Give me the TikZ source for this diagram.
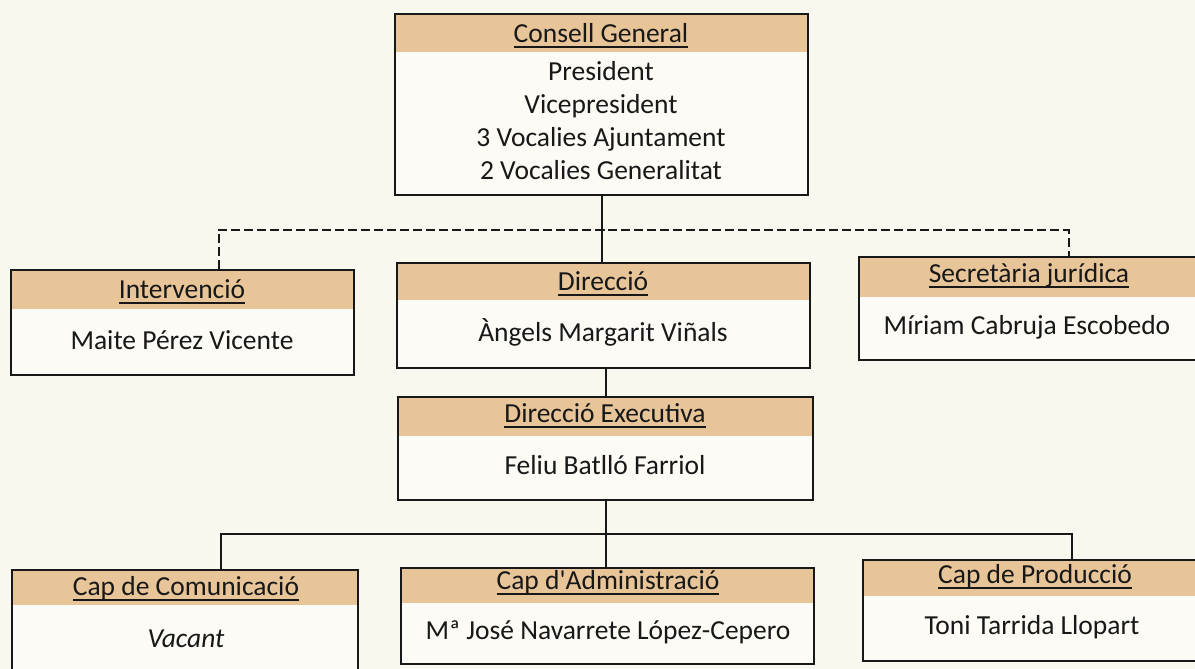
\documentclass[tikz,border=0pt]{standalone}
\usepackage{fontspec}
\setmainfont{Carlito}
\definecolor{paper}{RGB}{249,248,239}
\definecolor{boxbg}{RGB}{252,251,245}
\definecolor{head}{RGB}{231,197,152}
\definecolor{ink}{RGB}{24,24,24}
\newcommand\ulx[1]{\setbox0=\hbox{#1}\rlap{\rule[-0.2em]{\wd0}{0.07em}}\box0}
\tikzset{
  headh/.store in=\hh, headh=37,
  orgbox/.style={draw=ink, line width=1.8pt, fill=boxbg, inner sep=0pt, rectangle,
    path picture={\fill[head] (path picture bounding box.north west) rectangle ([yshift=-\hh pt]path picture bounding box.north east);}},
  txt/.style={inner sep=0pt, text=ink, font=\fontsize{27.5}{33}\selectfont, align=center},
  conn/.style={draw=ink, line width=2pt},
  dconn/.style={draw=ink, line width=2pt, dash pattern=on 9pt off 4pt}
}
\begin{document}
\begin{tikzpicture}[x=1pt,y=-1pt]
\fill[paper] (0,0) rectangle (1195,669);
\useasboundingbox (0,0) rectangle (1195,669);
\clip (0,0) rectangle (1195,669);
% boxes
\node[orgbox, headh=38, minimum width=413pt, minimum height=181pt] (cg) at (601.5,104.5) {};
\node[orgbox, headh=39, minimum width=343pt, minimum height=105pt] (int) at (182.5,322.5) {};
\node[orgbox, headh=37, minimum width=413pt, minimum height=105pt] (dir) at (603.5,315.5) {};
\node[orgbox, headh=40, minimum width=339pt, minimum height=103pt] (sec) at (1028.5,308.5) {};
\node[orgbox, headh=39, minimum width=415pt, minimum height=103pt] (de) at (605.5,448.5) {};
\node[orgbox, headh=35, minimum width=346pt, minimum height=108pt] (cc) at (185,624) {};
\node[orgbox, headh=35, minimum width=413pt, minimum height=96pt] (ca) at (607.5,616) {};
\node[orgbox, headh=36, minimum width=338pt, minimum height=101pt] (cp) at (1032,610.5) {};
% texts
\node[txt] (cgt) at (601,36) {\ulx{Consell General}};
\node[txt] (cgb) at (601,121) {President\\Vicepresident\\3 Vocalies Ajuntament\\2 Vocalies Generalitat};
\node[txt] (intt) at (182,292) {\ulx{Intervenció}};
\node[txt] (intb) at (182,340) {Maite Pérez Vicente};
\node[txt] (dirt) at (603,284) {\ulx{Direcció}};
\node[txt] (dirb) at (603,332) {Àngels Margarit Viñals};
\node[txt] (sect) at (1029,276) {\ulx{Secretària jurídica}};
\node[txt] (secb) at (1027,327) {Míriam Cabruja Escobedo};
\node[txt] (det) at (605,416) {\ulx{Direcció Executiva}};
\node[txt] (deb) at (605,465) {Feliu Batlló Farriol};
\node[txt] (cct) at (186,589) {\ulx{Cap de Comunicació}};
\node[txt] (ccb) at (186,639) {\itshape Vacant};
\node[txt] (cat) at (608,583) {\ulx{Cap d\textquotesingle Administració}};
\node[txt] (cab) at (608,632) {Mª José Navarrete López-Cepero};
\node[txt] (cpt) at (1035,577) {\ulx{Cap de Producció}};
\node[txt] (cpb) at (1032,627) {Toni Tarrida Llopart};
% connectors
\coordinate (dbus) at (604,230);
\coordinate (bus) at (607,534);
\draw[conn] (cg.south) -- (cg.south |- dir.north);
\draw[dconn] ([xshift=36pt]int.north) |- (dbus) -| ([xshift=40pt]sec.north);
\draw[conn] (dir.south -| de.north) -- (de.north);
\draw[conn] (de.south) -- (de.south |- ca.north);
\draw[conn] ([xshift=36pt]cc.north) |- (bus) -| ([xshift=40pt]cp.north);
\end{tikzpicture}
\end{document}
